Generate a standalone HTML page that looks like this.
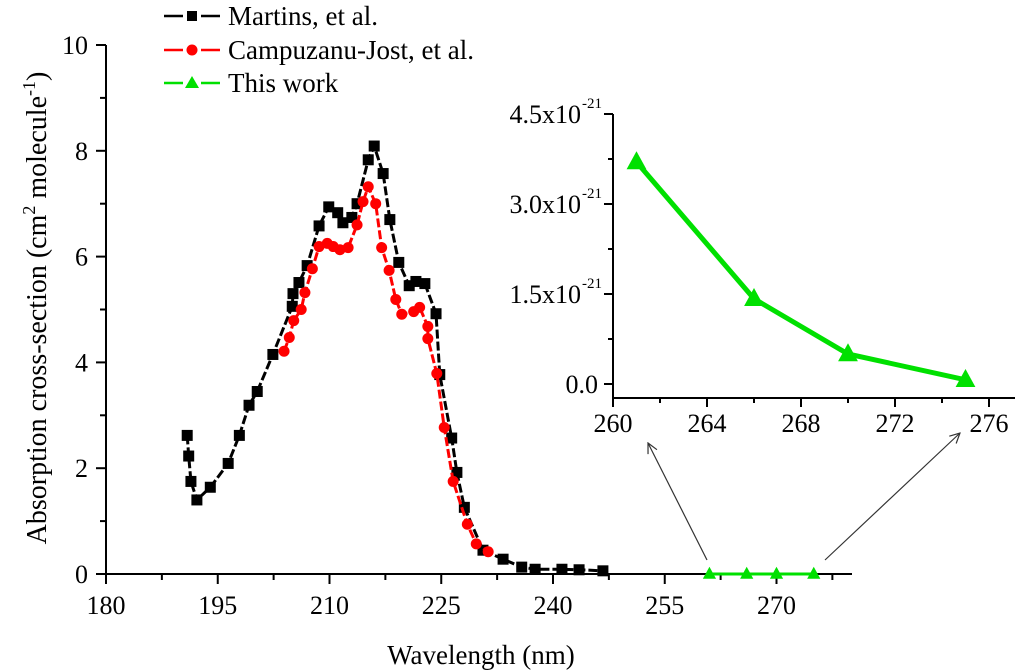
<!DOCTYPE html>
<html><head><meta charset="utf-8"><style>
html,body{margin:0;padding:0;background:#fff;}
svg{display:block;font-family:"Liberation Serif",serif;}
</style></head><body>
<svg id="chart" width="1024" height="672" xmlns="http://www.w3.org/2000/svg">
<defs><marker id="ah" markerWidth="12" markerHeight="12" refX="11" refY="6" orient="auto" markerUnits="userSpaceOnUse"><path d="M1,1 L11,6 L1,11" fill="none" stroke="#333" stroke-width="1.2"/></marker></defs>
</svg>
<script>
const martinsX=[190.9,191.1,191.4,192.2,194.0,196.4,197.9,199.2,200.3,202.4,205.0,205.1,205.9,207.0,208.6,209.9,211.1,211.8,213.0,213.7,215.2,216.0,217.2,218.1,219.3,220.7,221.6,222.8,224.3,224.8,226.4,227.1,228.1,230.6,233.3,235.8,237.6,241.2,243.5,246.7];
const martinsY=[2.62,2.23,1.75,1.40,1.64,2.09,2.62,3.19,3.45,4.15,5.06,5.30,5.51,5.83,6.58,6.94,6.83,6.64,6.74,7.00,7.83,8.09,7.57,6.70,5.89,5.45,5.53,5.49,4.92,3.77,2.57,1.92,1.26,0.45,0.28,0.13,0.09,0.09,0.08,0.06];
const campX=[203.9,204.6,205.2,206.2,206.7,207.7,208.6,209.7,210.5,211.4,212.5,213.7,214.5,215.2,216.2,217.0,218.0,218.9,219.7,221.3,222.1,223.2,223.2,224.4,225.4,226.6,228.5,229.7,231.3];
const campY=[4.21,4.47,4.79,5.00,5.32,5.77,6.19,6.25,6.19,6.13,6.17,6.60,7.04,7.32,7.00,6.17,5.74,5.19,4.91,4.96,5.04,4.68,4.45,3.79,2.77,1.75,0.94,0.57,0.42];
const workX=[261,266,270,275];
const workY=[3.7,1.42,0.5,0.07];  // x1e-21
const mainXTicks=[180,195,210,225,240,255,270];
const mainYTicks=[0,2,4,6,8,10];
const insetXTicks=[260,264,268,272,276];
const insetYTicks=["0.0","1.5","3.0","4.5"];

const NS="http://www.w3.org/2000/svg";
const svg=document.getElementById('chart');
function el(tag,attrs,parent){const e=document.createElementNS(NS,tag);for(const k in attrs)e.setAttribute(k,attrs[k]);(parent||svg).appendChild(e);return e;}
const mx=v=>106+(v-180)*7.45, my=v=>574-v*52.9;
const ix=v=>613+(v-260)*23.5, iy=v=>384-v*60;

let g=el('g',{});
el('line',{x1:106,y1:574,x2:852,y2:574,stroke:'#000','stroke-width':2},g);
el('line',{x1:106,y1:574,x2:106,y2:my(10),stroke:'#000','stroke-width':2},g);
mainXTicks.forEach((t,i)=>{
  el('line',{x1:mx(t),y1:574,x2:mx(t),y2:584,stroke:'#000','stroke-width':2},g);
  el('line',{x1:mx(t+7.5),y1:574,x2:mx(t+7.5),y2:580,stroke:'#000','stroke-width':2},g);
  const tx=el('text',{x:mx(t),y:614,'font-size':26,'text-anchor':'middle'},g);tx.textContent=t;
  
});
mainYTicks.forEach(t=>{
  el('line',{x1:96,y1:my(t),x2:106,y2:my(t),stroke:'#000','stroke-width':2},g);
  if(t<10) el('line',{x1:100,y1:my(t+1),x2:106,y2:my(t+1),stroke:'#000','stroke-width':2},g);
  const tx=el('text',{x:88,y:my(t)+9,'font-size':26,'text-anchor':'end'},g);tx.textContent=t;
  
});
let xt=el('text',{x:481,y:664,'font-size':27,'text-anchor':'middle'});xt.textContent='Wavelength (nm)';

let yt=el('text',{x:0,y:0,'font-size':28,'text-anchor':'middle',transform:'translate(46,308) rotate(-90)'});
yt.innerHTML='Absorption cross-section (cm<tspan dy="-11" font-size="18">2</tspan><tspan dy="11"> molecule</tspan><tspan dy="-11" font-size="18">-1</tspan><tspan dy="11">)</tspan>';


function series(xs,ys,sx,sy,color,marker,name,sz,lw,dash){
  const sg=el('g',{});
  const pl=el('polyline',{points:xs.map((x,i)=>sx(x)+','+sy(ys[i])).join(' '),fill:'none',stroke:color,'stroke-width':lw},sg);
  if(dash) pl.setAttribute('stroke-dasharray',dash);
  xs.forEach((x,i)=>{const cx=sx(x),cy=sy(ys[i]);let m;
    if(marker==='sq') m=el('rect',{x:cx-sz,y:cy-sz,width:2*sz,height:2*sz,fill:color},sg);
    else if(marker==='ci') m=el('circle',{cx:cx,cy:cy,r:sz,fill:color},sg);
    else m=el('polygon',{points:`${cx},${cy-sz*1.2} ${cx-sz*1.1},${cy+sz*0.8} ${cx+sz*1.1},${cy+sz*0.8}`,fill:color},sg);
    
  });
}
series(martinsX,martinsY,mx,my,'#000','sq','martins-series',5.5,3,'9 3');
series(campX,campY,mx,my,'#f00','ci','campuzanu-jost-series',5.5,3,'9 3');
series(workX,workY.map(()=>0),mx,my,'#00e000','tr','this-work-main-series',6,3);

let a1=el('line',{x1:707,y1:560,x2:648,y2:443,stroke:'#333','stroke-width':1.2,'marker-end':'url(#ah)'});

let a2=el('line',{x1:825,y1:560,x2:960,y2:433,stroke:'#333','stroke-width':1.2,'marker-end':'url(#ah)'});


let ig=el('g',{});
el('line',{x1:613,y1:398,x2:1015,y2:398,stroke:'#000','stroke-width':2},ig);
el('line',{x1:613,y1:398,x2:613,y2:iy(4.5),stroke:'#000','stroke-width':2},ig);
insetXTicks.forEach(t=>{
  el('line',{x1:ix(t),y1:398,x2:ix(t),y2:407,stroke:'#000','stroke-width':2},ig);
  if(t<276) el('line',{x1:ix(t+2),y1:398,x2:ix(t+2),y2:403,stroke:'#000','stroke-width':2},ig);
  const tx=el('text',{x:ix(t),y:432,'font-size':26,'text-anchor':'middle'},ig);tx.textContent=t;
  
});
insetYTicks.forEach(t=>{const v=parseFloat(t);
  el('line',{x1:604,y1:iy(v),x2:613,y2:iy(v),stroke:'#000','stroke-width':2},ig);
  if(v<4.5) el('line',{x1:608,y1:iy(v+0.75),x2:613,y2:iy(v+0.75),stroke:'#000','stroke-width':2},ig);
  const tx=el('text',{x:v===0?598:581,y:iy(v)+9,'font-size':26,'text-anchor':'end'},ig);
  tx.textContent=v===0?t:t+'x10';
  if(v!==0){const s=el('text',{x:582,y:iy(v)-6,'font-size':15,'text-anchor':'start'},ig);s.textContent='-21';}
  
});
series(workX,workY,ix,iy,'#00e000','tr','this-work-inset-series',9,5);

const legend=[['Martins, et al.','#000','sq'],['Campuzanu-Jost, et al.','#f00','ci'],['This work','#00e000','tr']];
const lys=[16,50,83];
legend.forEach((l,i)=>{const lg=el('g',{});
  const y=lys[i];
  el('line',{x1:164,y1:y,x2:220,y2:y,stroke:l[1],'stroke-width':2.5},lg);
  el('rect',{x:183,y:y-4,width:18,height:8,fill:'#fff'},lg);
  if(l[2]==='sq') el('rect',{x:187,y:y-5,width:10,height:10,fill:l[1]},lg);
  else if(l[2]==='ci') el('circle',{cx:192,cy:y,r:5.5,fill:l[1]},lg);
  else el('polygon',{points:`192,${y-7} 185,${y+5} 199,${y+5}`,fill:l[1]},lg);
  const t=el('text',{x:228,y:y+9,'font-size':27},lg);t.textContent=l[0];
});
</script>
</body></html>
